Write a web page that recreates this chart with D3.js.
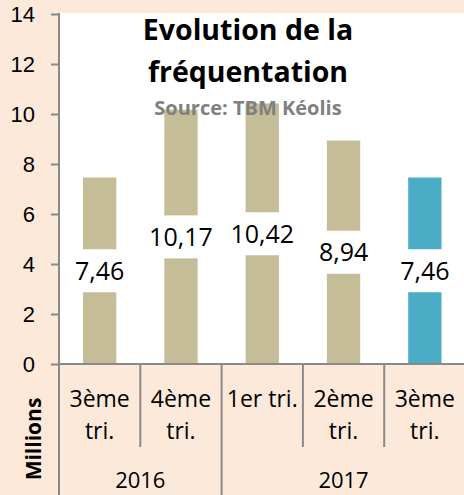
<!DOCTYPE html>
<html>
<head>
<meta charset="utf-8">
<script src="https://cdn.jsdelivr.net/npm/d3@7"></script>
<style>
  body { margin: 0; background: #fde9d9; }
  svg { display: block; font-family: "Open Sans", Lato, sans-serif; }
</style>
</head>
<body>
<div id="chart"></div>
<script>
// donnees
var trimestres = [["3ème", "tri."], ["4ème", "tri."], ["1er tri."], ["2ème", "tri."], ["3ème", "tri."]];
var valeurs = [7.46, 10.17, 10.42, 8.94, 7.46];
var annees = ["2016", "2017"];
var trimParAnnee = [2, 3];
var yTicks = [0, 2, 4, 6, 8, 10, 12, 14];

var W = 464, H = 495;
var margin = {top: 14, right: -1.5, bottom: 131, left: 59};

var svg = d3.select("#chart").append("svg")
    .attr("width", W)
    .attr("height", H);

svg.append("rect").attr("width", W).attr("height", H).attr("fill", "#fde9d9");

var x = d3.scaleBand()
    .domain(d3.range(valeurs.length))
    .range([margin.left, W - margin.right])
    .paddingInner(0.59)
    .paddingOuter(0.295);

var y = d3.scaleLinear()
    .domain([0, 14])
    .range([H - margin.bottom, margin.top]);

var gris = "#898989";

// zone du graphique
svg.append("rect")
    .attr("x", margin.left).attr("y", margin.top - 1)
    .attr("width", W - margin.left).attr("height", y(0) - margin.top + 1)
    .attr("fill", "#ffffff");

// barres
svg.selectAll(".barre").data(valeurs).enter().append("rect")
    .attr("class", "barre")
    .attr("x", function(d, i){ return x(i); })
    .attr("y", function(d){ return y(d); })
    .attr("width", x.bandwidth())
    .attr("height", function(d){ return y(0) - y(d); })
    .attr("fill", function(d, i){ return i == valeurs.length - 1 ? "#4bacc6" : "#c4bd97"; });

// etiquettes
var fmt = function(v){ return d3.format(".2f")(v).replace(".", ","); };
var etiq = svg.selectAll(".etiq").data(valeurs).enter().append("g")
    .attr("class", "etiq")
    .attr("transform", function(d, i){ return "translate(" + (x(i) + x.bandwidth() / 2) + "," + ((y(d) + y(0)) / 2) + ")"; });
etiq.append("rect")
    .attr("x", -34).attr("y", -21.5).attr("width", 68).attr("height", 43)
    .attr("fill", "#ffffff");
etiq.append("text")
    .attr("text-anchor", "middle")
    .attr("dy", "0.36em")
    .style("font-size", "25px")
    .attr("fill", "#000")
    .text(function(d){ return fmt(d); });

// axe Y
var yAxis = svg.append("g")
    .attr("transform", "translate(" + margin.left + ",0)")
    .call(d3.axisLeft(y).tickValues(yTicks).tickSize(8).tickPadding(16));
yAxis.select(".domain").remove();
yAxis.selectAll("line").attr("stroke", gris).attr("stroke-width", 2);
yAxis.selectAll("text").style("font-size", "22px").attr("fill", "#000");

svg.append("line")
    .attr("x1", margin.left).attr("x2", margin.left)
    .attr("y1", margin.top - 1).attr("y2", H)
    .attr("stroke", gris).attr("stroke-width", 2);

// axe X
svg.append("line")
    .attr("x1", margin.left).attr("x2", W)
    .attr("y1", y(0)).attr("y2", y(0))
    .attr("stroke", gris).attr("stroke-width", 2);

var pas = x.step();
var bords = d3.range(1, valeurs.length).map(function(i){ return margin.left + i * pas; });
var finAnnee = d3.cumsum(trimParAnnee);
svg.selectAll(".sep").data(bords).enter().append("line")
    .attr("x1", function(d){ return d; }).attr("x2", function(d){ return d; })
    .attr("y1", y(0))
    .attr("y2", function(d, i){ return finAnnee.indexOf(i + 1) >= 0 ? H : y(0) + 83; })
    .attr("stroke", gris).attr("stroke-width", 2);

var cat = svg.selectAll(".cat").data(trimestres).enter().append("text")
    .attr("class", "cat")
    .attr("text-anchor", "middle")
    .attr("x", function(d, i){ return x(i) + x.bandwidth() / 2; })
    .attr("y", y(0) + 43)
    .style("font-size", "23px")
    .attr("fill", "#000");
cat.selectAll("tspan").data(function(d){ return d; }).enter().append("tspan")
    .attr("x", function(){ return d3.select(this.parentNode).attr("x"); })
    .attr("dy", function(d, j){ return j == 0 ? 0 : 32; })
    .text(function(d){ return d; });

var debut = 0;
annees.forEach(function(a, k){
    var x0 = margin.left + debut * pas;
    var x1 = margin.left + (debut + trimParAnnee[k]) * pas;
    svg.append("text")
        .attr("text-anchor", "middle")
        .attr("x", (x0 + x1) / 2)
        .attr("y", 488)
        .style("font-size", "22px")
        .attr("fill", "#000")
        .text(a);
    debut += trimParAnnee[k];
});

svg.append("text")
    .attr("transform", "translate(41,439) rotate(-90)")
    .attr("text-anchor", "middle")
    .style("font-size", "21px")
    .style("font-weight", "bold")
    .attr("fill", "#000")
    .text("Millions");

// titre
svg.append("text").attr("x", 248).attr("y", 40).attr("text-anchor", "middle")
    .style("font-size", "28.5px").style("font-weight", "bold").attr("fill", "#000")
    .text("Evolution de la");
svg.append("text").attr("x", 248).attr("y", 82).attr("text-anchor", "middle")
    .style("font-size", "28.5px").style("font-weight", "bold").attr("fill", "#000")
    .text("fréquentation");
svg.append("text").attr("x", 248).attr("y", 115).attr("text-anchor", "middle")
    .style("font-size", "20px").style("font-weight", "bold").attr("fill", "#808080")
    .text("Source: TBM Kéolis");
</script>
</body>
</html>
